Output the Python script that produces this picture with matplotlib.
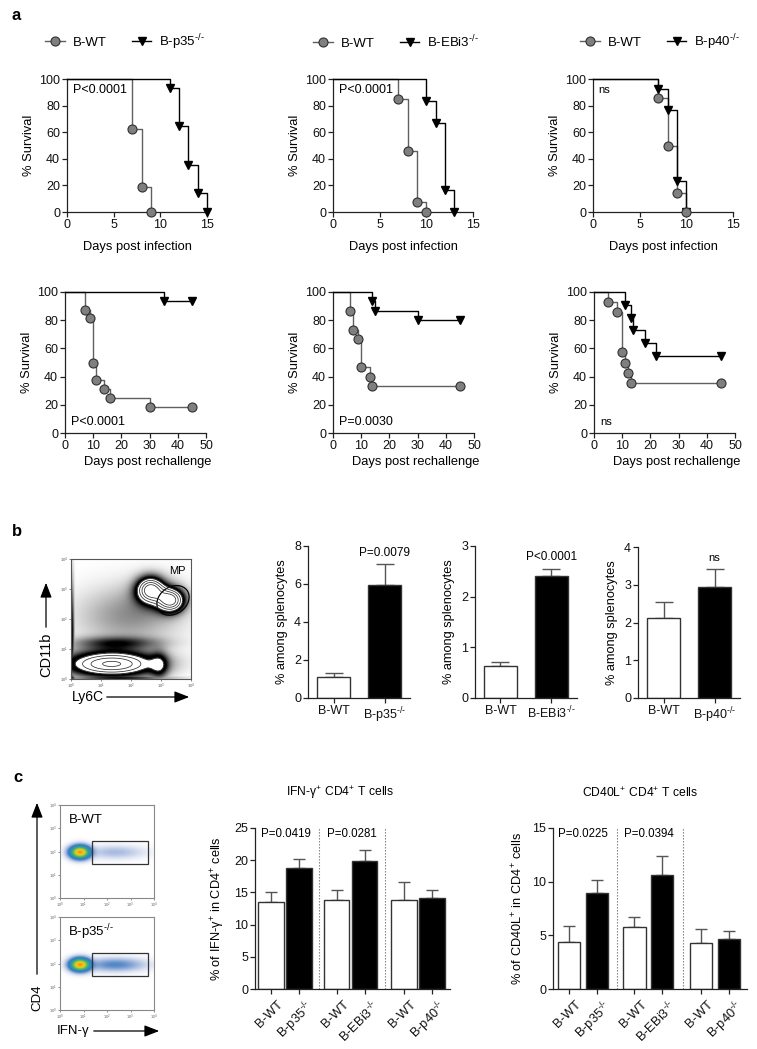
import numpy as np
import matplotlib
matplotlib.use('Agg')
import matplotlib.pyplot as plt
from matplotlib.colors import LinearSegmentedColormap
from matplotlib.patches import Rectangle, Ellipse
from matplotlib.lines import Line2D
from matplotlib.transforms import ScaledTranslation

plt.rcParams['font.family'] = ['Liberation Sans', 'DejaVu Sans']
plt.rcParams['mathtext.fontset'] = 'custom'
plt.rcParams['mathtext.rm'] = 'Liberation Sans'
plt.rcParams['mathtext.it'] = 'Liberation Sans:italic'
plt.rcParams['mathtext.default'] = 'regular'

KO = '$^{\u2010/\u2010}$'

# ---------------- data ----------------
# panel a : survival after infection (days, % survival)
inf_wt1_days = [0, 7, 8, 9]
inf_wt1_surv = [100, 62.5, 18.75, 0]
inf_p35_days = [0, 11, 12, 13, 14, 15]
inf_p35_surv = [100, 92.9, 64.3, 35.7, 14.3, 0]
inf_wt2_days = [0, 7, 8, 9, 10]
inf_wt2_surv = [100, 84.6, 46.2, 7.7, 0]
inf_ebi3_days = [0, 10, 11, 12, 13]
inf_ebi3_surv = [100, 83.3, 66.7, 16.7, 0]
inf_wt3_days = [0, 7, 8, 9, 10]
inf_wt3_surv = [100, 85.7, 50.0, 14.3, 0]
inf_p40_days = [0, 7, 8, 9, 10]
inf_p40_surv = [100, 92.3, 76.9, 23.1, 0]

# panel a : survival after rechallenge
re_wt1_days = [0, 7, 9, 10, 11, 14, 16, 30, 45]
re_wt1_surv = [100, 87.5, 81.25, 50, 37.5, 31.25, 25, 18.75, 18.75]
re_p35_days = [0, 35, 45]
re_p35_surv = [100, 93.3, 93.3]
re_wt2_days = [0, 6, 7, 9, 10, 13, 14, 45]
re_wt2_surv = [100, 86.7, 73.3, 66.7, 46.7, 40.0, 33.3, 33.3]
re_ebi3_days = [0, 14, 15, 30, 45]
re_ebi3_surv = [100, 93.3, 86.7, 80.0, 80.0]
re_wt3_days = [0, 5, 8, 10, 11, 12, 13, 45]
re_wt3_surv = [100, 92.9, 85.7, 57.1, 50.0, 42.9, 35.7, 35.7]
re_p40_days = [0, 11, 13, 14, 18, 22, 45]
re_p40_surv = [100, 90.9, 81.8, 72.7, 63.6, 54.5, 54.5]

ko_labels = ['B-p35' + KO, 'B-EBi3' + KO, 'B-p40' + KO]
inf_pvals = ['P<0.0001', 'P<0.0001', 'ns']
re_pvals = ['P<0.0001', 'P=0.0030', 'ns']

# panel b : MP among splenocytes
mp_p35_mean = [1.10, 5.95]
mp_p35_err = [0.20, 1.10]
mp_ebi3_mean = [0.63, 2.41]
mp_ebi3_err = [0.08, 0.13]
mp_p40_mean = [2.12, 2.94]
mp_p40_err = [0.42, 0.48]
mp_pvals = ['P=0.0079', 'P<0.0001', 'ns']
mp_yticks = [[0, 2, 4, 6, 8], [0, 1, 2, 3], [0, 1, 2, 3, 4]]

# panel c : cytokine-positive CD4 T cells
c_labels = ['B-WT', 'B-p35' + KO, 'B-WT', 'B-EBi3' + KO, 'B-WT', 'B-p40' + KO]
ifng_mean = [13.5, 18.8, 13.8, 19.9, 13.8, 14.2]
ifng_err = [1.5, 1.4, 1.5, 1.7, 2.8, 1.2]
ifng_pvals = ['P=0.0419', 'P=0.0281']
cd40l_mean = [4.37, 8.95, 5.76, 10.62, 4.27, 4.64]
cd40l_err = [1.54, 1.24, 0.96, 1.73, 1.33, 0.75]
cd40l_pvals = ['P=0.0225', 'P=0.0394']

# flow cytometry density descriptions (log10 units): centre, spread, weight
fb_cu = [1.9, 1.5, 2.65, 3.32, 1.35, 2.95, 2.8]
fb_cv = [2.1, 1.2, 2.97, 2.63, 0.5, 0.45, 2.8]
fb_su = [1.2, 1.0, 0.30, 0.30, 1.0, 0.20, 0.6]
fb_sv = [0.7, 0.15, 0.28, 0.26, 0.28, 0.30, 0.45]
fb_w = [0.5, 0.8, 3.0, 3.0, 3.0, 1.0, 0.35]
fb_edge_cu = [0.03, 1.6]
fb_edge_cv = [1.5, 0.03]
fb_edge_su = [0.05, 1.1]
fb_edge_sv = [1.2, 0.05]
fb_edge_w = [1.0, 1.0]

fc_cu = [0.85, 2.35]
fc_cv = [1.95, 1.95]
fc_su = [0.25, 0.75]
fc_sv = [0.16, 0.17]
fc_w_wt = [1.0, 0.05]
fc_w_p35 = [1.0, 0.12]

# ---------------- figure ----------------
W, H = 757, 1049
fig = plt.figure(figsize=(W / 100, H / 100), dpi=100)
fig.patch.set_facecolor('white')


def px_axes(l, t, r, b):
    return fig.add_axes([l / W, 1 - b / H, (r - l) / W, (b - t) / H])


def ftext(x, y, s, **kw):
    fig.text(x / W, 1 - y / H, s, **kw)


SP = '#222222'


def style(ax, fs=9):
    for s in ['top', 'right']:
        ax.spines[s].set_visible(False)
    for s in ['left', 'bottom']:
        ax.spines[s].set_linewidth(0.9)
        ax.spines[s].set_color(SP)
    ax.tick_params(direction='out', length=3.5, width=0.9, labelsize=fs,
                   pad=1.5, color=SP, labelcolor='#111111')


def survival(ax, wd, ws, kd, ks, xmax, xticks):
    ax.step(wd, ws, where='post', color='#606060', lw=1.0, clip_on=False, zorder=2)
    ax.step(kd, ks, where='post', color='black', lw=1.0, clip_on=False, zorder=3)
    ax.plot(kd[1:], ks[1:], 'v', color='black', ms=6, clip_on=False, zorder=4)
    ax.plot(wd[1:], ws[1:], 'o', mfc='#7f7f7f', mec='#303030', mew=0.8,
            ms=6.5, clip_on=False, zorder=5)
    ax.set_xlim(0, xmax)
    ax.set_ylim(0, 100)
    ax.set_xticks(xticks)
    ax.set_yticks([0, 20, 40, 60, 80, 100])
    style(ax, 9)
    ax.set_ylabel('% Survival', fontsize=9.3, labelpad=3)


top_boxes = [(67, 79, 207, 212), (333, 79, 473, 212), (593, 79, 733, 212)]
bot_boxes = [(65, 292, 206, 433), (333, 292, 474, 433), (594, 292, 735, 433)]
inf_sets = [(inf_wt1_days, inf_wt1_surv, inf_p35_days, inf_p35_surv),
            (inf_wt2_days, inf_wt2_surv, inf_ebi3_days, inf_ebi3_surv),
            (inf_wt3_days, inf_wt3_surv, inf_p40_days, inf_p40_surv)]
re_sets = [(re_wt1_days, re_wt1_surv, re_p35_days, re_p35_surv),
           (re_wt2_days, re_wt2_surv, re_ebi3_days, re_ebi3_surv),
           (re_wt3_days, re_wt3_surv, re_p40_days, re_p40_surv)]
legend_x = [-0.157, -0.143, -0.093]

for i in range(3):
    ax = px_axes(*top_boxes[i])
    survival(ax, *inf_sets[i], 15, [0, 5, 10, 15])
    ax.set_xlabel('Days post infection', fontsize=9.3)
    ax.xaxis.set_label_coords(0.5, -0.22)
    fsz = 9 if inf_pvals[i] != 'ns' else 8
    ax.text(0.043 if i < 2 else 0.035, 0.915, inf_pvals[i], transform=ax.transAxes,
            fontsize=fsz, va='center', ha='left')
    handles = [Line2D([], [], color='#606060', lw=1.0, marker='o', mfc='#7f7f7f',
                      mec='#303030', mew=0.8, ms=6.5),
               Line2D([], [], color='black', lw=1.0, marker='v', ms=6)]
    ax.legend(handles, ['B-WT', ko_labels[i]], ncol=2, loc='center left',
              bbox_to_anchor=(legend_x[i], 1.28), frameon=False,
              handlelength=1.5, handletextpad=0.6, columnspacing=1.9,
              borderaxespad=0, borderpad=0, fontsize=9.5, numpoints=1)

    ax = px_axes(*bot_boxes[i])
    survival(ax, *re_sets[i], 50, [0, 10, 20, 30, 40, 50])
    ax.set_xlabel('Days post rechallenge', fontsize=9.3)
    ax.xaxis.set_label_coords(0.585, -0.165)
    fsz = 9 if re_pvals[i] != 'ns' else 8
    ax.text(0.045, 0.075, re_pvals[i], transform=ax.transAxes,
            fontsize=fsz, va='center', ha='left')

# ---------------- panel b flow plot ----------------
g = np.linspace(0, 4, 300)
U, V = np.meshgrid(g, g)


def blobs(cu, cv, su, sv, w):
    d = np.zeros_like(U)
    for a, b, c, e, k in zip(cu, cv, su, sv, w):
        d += k * np.exp(-0.5 * ((U - a) / c) ** 2 - 0.5 * ((V - b) / e) ** 2)
    return d


axf = px_axes(71, 559, 191, 679)
d_pop = blobs(fb_cu, fb_cv, fb_su, fb_sv, fb_w)
d_edge = blobs(fb_edge_cu, fb_edge_cv, fb_edge_su, fb_edge_sv, fb_edge_w)
T = 1.45
shade = np.where(d_pop >= T, 0.0, np.clip(d_pop / 1.1, 0, 1) ** 1.1)
shade = np.maximum(shade, np.clip(d_edge, 0, 1))
axf.imshow(shade, extent=[0, 4, 0, 4], origin='lower', cmap='gray_r', vmin=0,
           vmax=1, aspect='auto', interpolation='bilinear')
axf.contour(U, V, d_pop, levels=[T, 1.9, 2.4, 2.9], colors='#303030', linewidths=0.55)
axf.add_patch(Ellipse((3.4, 2.62), 1.15, 0.9, angle=35, fill=False, ec='black', lw=0.9))
axf.text(3.55, 3.6, 'MP', fontsize=8, ha='center', va='center')
axf.set_xlim(0, 4)
axf.set_ylim(0, 4)
ticklabs = ['$10^{%d}$' % k for k in range(5)]
axf.set_xticks(range(5))
axf.set_yticks(range(5))
axf.set_xticklabels(ticklabs)
axf.set_yticklabels(ticklabs)
axf.tick_params(labelsize=3.0, length=1.5, width=0.5, pad=0.8, colors='#555555')
for s in axf.spines.values():
    s.set_linewidth(0.8)
    s.set_color('#555555')

ftext(46, 655, 'CD11b', fontsize=10.5, rotation=90, ha='center', va='center')
ftext(72, 697, 'Ly6C', fontsize=10, ha='left', va='center')
ov = fig.add_axes([0, 0, 1, 1], zorder=-1)
ov.set_xlim(0, W)
ov.set_ylim(H, 0)
ov.axis('off')
arrow_kw = dict(arrowstyle='-|>,head_length=0.9,head_width=0.35', color='black', lw=0.9)
ov.annotate('', xy=(46, 580), xytext=(46, 630), arrowprops=arrow_kw)
ov.annotate('', xy=(192, 697), xytext=(104, 697), arrowprops=arrow_kw)

# ---------------- panel b bars ----------------
bbox_b = [(308, 546, 410, 698), (475, 546, 577, 698), (638, 547, 740, 698)]
b_means = [mp_p35_mean, mp_ebi3_mean, mp_p40_mean]
b_errs = [mp_p35_err, mp_ebi3_err, mp_p40_err]
b_py = [0.955, 0.93, 0.93]
for i in range(3):
    ax = px_axes(*bbox_b[i])
    xs = np.arange(2)
    ax.bar(xs, b_means[i], width=0.66, color=['white', 'black'],
           edgecolor='#333333', lw=1.0, zorder=2)
    ax.errorbar(xs, b_means[i], yerr=[[0, 0], b_errs[i]], fmt='none',
                ecolor='#555555', elinewidth=1.0, capsize=6.5, capthick=1.0, zorder=1)
    ax.set_xlim(-0.5, 1.5)
    ax.set_ylim(0, mp_yticks[i][-1])
    ax.set_yticks(mp_yticks[i])
    ax.set_xticks(xs)
    ax.set_xticklabels(['B-WT', ko_labels[i]])
    style(ax, 9)
    ax.set_ylabel('% among splenocytes', fontsize=9.2, labelpad=4)
    ax.text(1, b_py[i], mp_pvals[i], transform=ax.get_xaxis_transform(),
            fontsize=8.5 if i < 2 else 8, ha='center', va='center')

# ---------------- panel c flow ----------------
flow_cmap = LinearSegmentedColormap.from_list(
    'flow', ['#2a4fb0', '#2f86c0', '#2fa890', '#8cc43a', '#f2d21e', '#f29a12'])
for (t, b), w, lab in [((805, 898), fc_w_wt, 'B-WT'), ((917, 1010), fc_w_p35, 'B-p35' + KO)]:
    ax = px_axes(60, t, 154, b)
    d = blobs(fc_cu, fc_cv, fc_su, fc_sv, w)
    rgba = flow_cmap(np.clip(d / 1.0, 0, 1))
    rgba[..., 3] = np.clip(d / 0.15, 0, 1) ** 0.8
    ax.imshow(rgba, extent=[0, 4, 0, 4], origin='lower', aspect='auto', interpolation='bilinear')
    ax.add_patch(Rectangle((1.36, 1.46), 2.38, 1.0, fill=False, ec='#333333', lw=0.9))
    ax.text(0.09, 0.84, lab, transform=ax.transAxes, fontsize=9.5, va='center')
    ax.set_xlim(0, 4)
    ax.set_ylim(0, 4)
    ax.set_xticks(range(5))
    ax.set_yticks(range(5))
    ax.set_xticklabels(ticklabs)
    ax.set_yticklabels(ticklabs)
    ax.tick_params(labelsize=3.0, length=1.5, width=0.5, pad=0.8, colors='#666666')
    for s in ax.spines.values():
        s.set_linewidth(0.8)
        s.set_color('#888888')

ftext(37, 998, 'CD4', fontsize=9.5, rotation=90, ha='center', va='center')
ftext(57, 1031, 'IFN-γ', fontsize=9.5, ha='left', va='center')
ov.annotate('', xy=(37, 800), xytext=(37, 977), arrowprops=arrow_kw)
ov.annotate('', xy=(162, 1031), xytext=(91, 1031), arrowprops=arrow_kw)

# ---------------- panel c bars ----------------
c_pos = [0.57, 1.57, 2.92, 3.92, 5.32, 6.32]
c_sep = [2.28, 4.65]
c_panels = [((255, 828, 450, 989), ifng_mean, ifng_err, ifng_pvals, 25, [0, 5, 10, 15, 20, 25],
             '% of IFN-γ$^{+}$ in CD4$^{+}$ cells', 0.9, 'IFN-γ$^{+}$ CD4$^{+}$ T cells', 340),
            ((553, 828, 747, 989), cd40l_mean, cd40l_err, cd40l_pvals, 15, [0, 5, 10, 15],
             '% of CD40L$^{+}$ in CD4$^{+}$ cells', 0.8, 'CD40L$^{+}$ CD4$^{+}$ T cells', 640)]
for box, mean, err, pv, ymax, yt, ylab, bw, title, tx in c_panels:
    ax = px_axes(*box)
    cols = ['white', 'black'] * 3
    ax.bar(c_pos, mean, width=bw, color=cols, edgecolor='#333333', lw=1.0, zorder=2)
    ax.errorbar(c_pos, mean, yerr=[[0] * 6, err], fmt='none', ecolor='#555555',
                elinewidth=1.0, capsize=4.3, capthick=1.0, zorder=1)
    for s in c_sep:
        ax.axvline(s, ymin=0, ymax=1, ls=(0, (1.2, 1.5)), color='#777777', lw=0.8, zorder=0)
    ax.set_xlim(0, 6.96)
    ax.set_ylim(0, ymax)
    ax.set_yticks(yt)
    ax.set_xticks(c_pos)
    ax.set_xticklabels(c_labels, rotation=45, ha='right', va='top', rotation_mode='anchor')
    style(ax, 9)
    offs = ScaledTranslation(6 / 100, -2 / 100, fig.dpi_scale_trans)
    for lbl in ax.get_xticklabels():
        lbl.set_transform(lbl.get_transform() + offs)
        lbl.set_fontsize(9.3)
    ax.set_ylabel(ylab, fontsize=9.2, labelpad=5)
    for k, p in enumerate(pv):
        ax.text((c_pos[2 * k] + c_pos[2 * k + 1]) / 2 + 0.02, 0.965, p,
                transform=ax.get_xaxis_transform(), fontsize=8.3, ha='center', va='center')
    ftext(tx, 793, title, fontsize=8.7, ha='center', va='center')

# panel letters
ftext(12, 15, 'a', fontsize=12, fontweight='bold', ha='left', va='center')
ftext(12, 532, 'b', fontsize=12, fontweight='bold', ha='left', va='center')
ftext(13, 777, 'c', fontsize=12, fontweight='bold', ha='left', va='center')

fig.savefig('out.png', dpi=100, facecolor='white')
